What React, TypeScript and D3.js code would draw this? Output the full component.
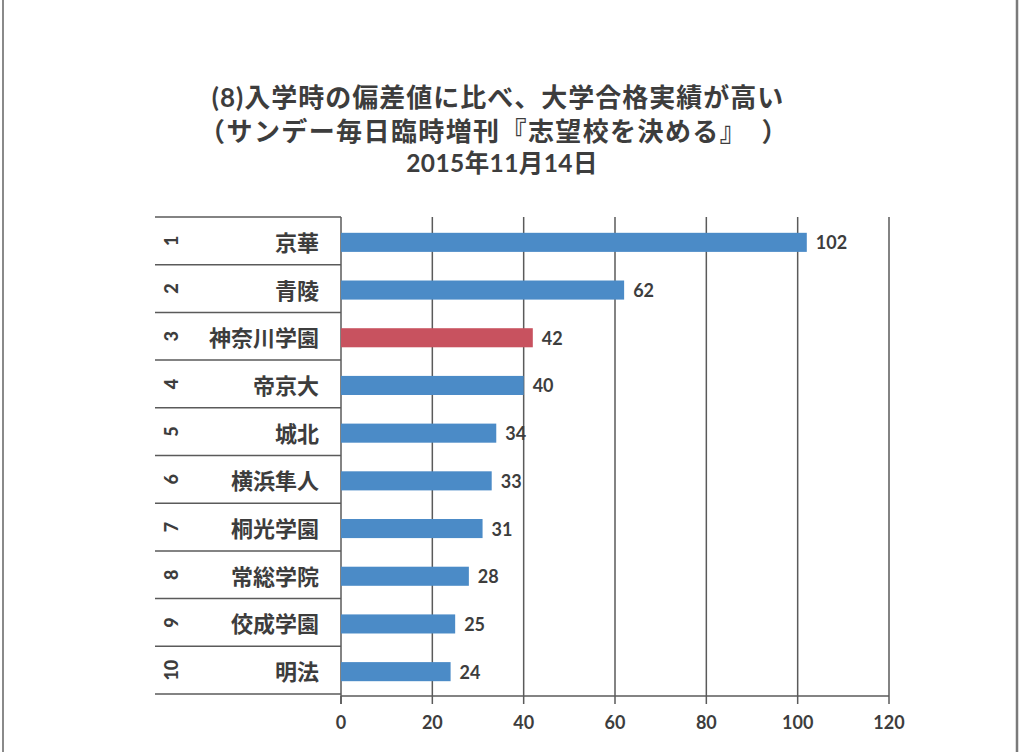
import React from "react";
import * as d3 from "d3";

const titleLines = [
  "(8)入学時の偏差値に比べ、大学合格実績が高い",
  "（サンデー毎日臨時増刊『志望校を決める』　）",
  "2015年11月14日",
];
const ranks = ["1", "2", "3", "4", "5", "6", "7", "8", "9", "10"];
const schools = ["京華", "青陵", "神奈川学園", "帝京大", "城北", "横浜隼人", "桐光学園", "常総学院", "佼成学園", "明法"];
const values = [102, 62, 42, 40, 34, 33, 31, 28, 25, 24];
const highlighted = ["神奈川学園"];
const xTicks = [0, 20, 40, 60, 80, 100, 120];

const W = 1024;
const H = 752;
const plotLeft = 341;
const plotRight = 889;
const plotTop = 217;
const plotBottom = 694;
const tableLeft = 155;
const textColor = "#3d3d3d";
const lineColor = "#5a5a5a";
const numFont = "Lato, 'Noto Sans CJK JP', sans-serif";
const cjkFont = "'Noto Sans CJK JP', sans-serif";

export default function App() {
  const x = d3.scaleLinear().domain([0, 120]).range([plotLeft, plotRight]);
  const y = d3
    .scaleBand<string>()
    .domain(schools)
    .range([plotTop, plotBottom])
    .paddingInner(0.6)
    .paddingOuter(0.3);
  const step = y.step();
  const rowTop = (i: number) => plotTop + i * step;

  return (
    <svg
      width={W}
      height={H}
      style={{ position: "absolute", left: 0, top: 0, background: "#fff" }}
    >
      <rect x={0} y={0} width={W} height={H} fill="#ffffff" />
      {/* frame */}
      <line x1={3} y1={0} x2={3} y2={H} stroke="#8a8a8a" strokeWidth={2} />
      <line x1={1017} y1={0} x2={1017} y2={H} stroke="#7a7a7a" strokeWidth={2.5} />

      {/* title */}
      <text
        x={498}
        y={107}
        textAnchor="middle"
        fontFamily={numFont}
        fontWeight="bold"
        fontSize={26}
        letterSpacing={1}
        fill={textColor}
      >
        {titleLines[0]}
      </text>
      <text
        x={494}
        y={141}
        textAnchor="middle"
        fontFamily={numFont}
        fontWeight="bold"
        fontSize={26}
        letterSpacing={1.4}
        fill={textColor}
      >
        {titleLines[1]}
      </text>
      <text
        x={502}
        y={172}
        textAnchor="middle"
        fontFamily={numFont}
        fontWeight="bold"
        fontSize={24.5}
        letterSpacing={0.4}
        fill={textColor}
      >
        {titleLines[2]}
      </text>

      {/* vertical gridlines */}
      {xTicks.slice(1).map((t) => (
        <line
          key={"g" + t}
          x1={x(t)}
          x2={x(t)}
          y1={plotTop}
          y2={plotBottom + 2}
          stroke={lineColor}
          strokeWidth={1.5}
        />
      ))}

      {/* table row lines */}
      {d3.range(schools.length + 1).map((i) => (
        <line
          key={"r" + i}
          x1={tableLeft}
          x2={plotLeft}
          y1={rowTop(i)}
          y2={rowTop(i)}
          stroke={lineColor}
          strokeWidth={1.5}
        />
      ))}

      {/* axis baseline */}
      <line
        x1={plotLeft}
        x2={plotRight}
        y1={plotBottom + 2}
        y2={plotBottom + 2}
        stroke={lineColor}
        strokeWidth={1.5}
      />
      {/* axis vertical (table right edge) */}
      <line
        x1={plotLeft}
        x2={plotLeft}
        y1={plotTop}
        y2={plotBottom + 10}
        stroke={lineColor}
        strokeWidth={1.5}
      />
      {xTicks.map((t) => (
        <line
          key={"t" + t}
          x1={x(t)}
          x2={x(t)}
          y1={plotBottom + 2}
          y2={plotBottom + 10}
          stroke={lineColor}
          strokeWidth={1.5}
        />
      ))}
      {xTicks.map((t) => (
        <text
          key={"tl" + t}
          x={x(t)}
          y={729}
          textAnchor="middle"
          fontFamily={numFont}
          fontWeight="bold"
          fontSize={18}
          fill={textColor}
        >
          {t}
        </text>
      ))}

      {/* rows */}
      {schools.map((s, i) => {
        const cy = rowTop(i) + step / 2;
        return (
          <g key={s}>
            <text
              transform={`translate(${171},${cy}) rotate(-90)`}
              textAnchor="middle"
              dominantBaseline="central"
              fontFamily={numFont}
              fontWeight="900"
              fontSize={18}
              fill={textColor}
            >
              {ranks[i]}
            </text>
            <text
              x={319}
              y={cy}
              textAnchor="end"
              dominantBaseline="central"
              fontFamily={cjkFont}
              fontWeight="bold"
              fontSize={22}
              fill={textColor}
            >
              {s}
            </text>
          </g>
        );
      })}

      {/* bars */}
      {schools.map((s, i) => (
        <rect
          key={"b" + s}
          x={x(0)}
          y={y(s)! + 1.5}
          width={x(values[i]) - x(0)}
          height={y.bandwidth()}
          fill={highlighted.includes(s) ? "#c8525f" : "#4b8bc7"}
        />
      ))}

      {/* value labels */}
      {schools.map((s, i) => (
        <text
          key={"v" + s}
          x={x(values[i]) + 9}
          y={y(s)! + 1.5 + y.bandwidth() / 2}
          dominantBaseline="central"
          fontFamily={numFont}
          fontWeight="bold"
          fontSize={18}
          fill={textColor}
        >
          {values[i]}
        </text>
      ))}
    </svg>
  );
}
